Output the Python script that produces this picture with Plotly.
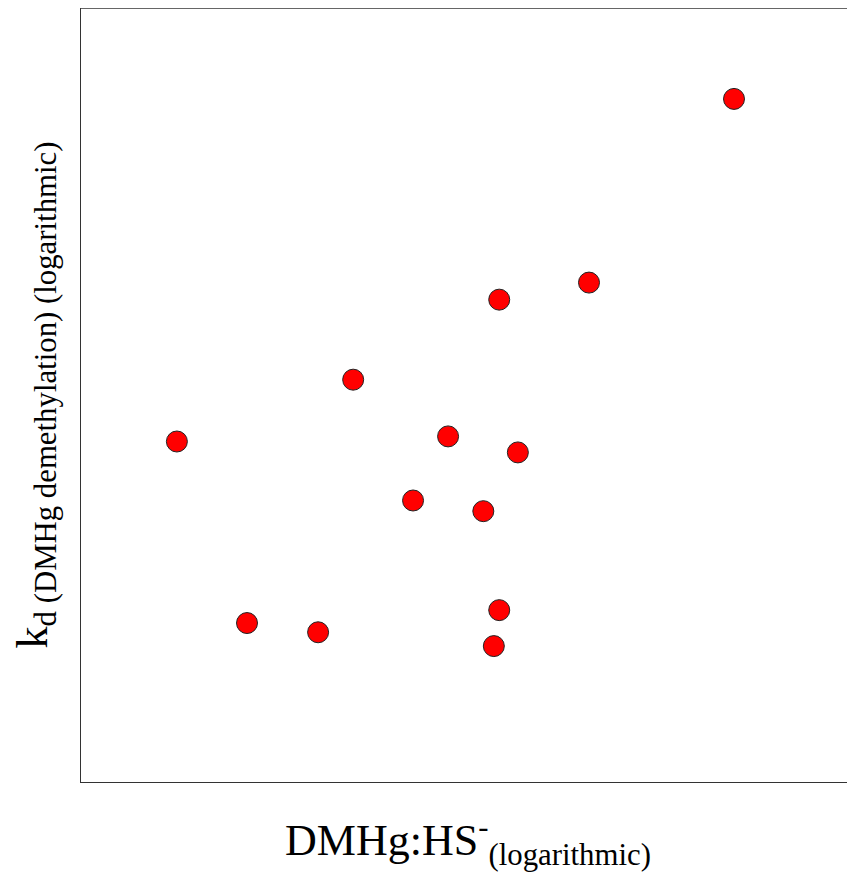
import plotly.graph_objects as go

# DMHg:HS- ratio (log axis, arbitrary units)
dmhg_hs = [0.0313, 0.0721, 0.168, 0.255, 0.520, 0.789, 1.20, 1.45, 1.45, 1.36, 1.81, 4.22, 23.7]
# k_d demethylation (log axis, arbitrary units)
kd = [0.575, 0.0663, 0.0594, 1.20, 0.285, 0.611, 0.251, 3.11, 0.0773, 0.0504, 0.505, 3.81, 33.9]

x_title = "DMHg:HS<sup>-</sup><sub>(logarithmic)</sub>"
y_title = "k<sub>d (DMHg demethylation) (logarithmic)</sub>"

fig = go.Figure()
fig.add_trace(go.Scatter(
    x=dmhg_hs, y=kd, mode="markers",
    marker=dict(size=21, color="#ff0000", line=dict(color="#222222", width=1)),
    showlegend=False, hoverinfo="skip",
))

font_family = "Liberation Serif, DejaVu Serif, serif"

fig.update_layout(
    width=847, height=866,
    margin=dict(l=73, r=0, t=0, b=92),
    paper_bgcolor="white", plot_bgcolor="white",
    font=dict(family=font_family, color="black"),
    xaxis=dict(
        type="log", range=[-2, 2], showgrid=False, zeroline=False,
        showticklabels=False, ticks="", showline=True, linecolor="#333333", linewidth=1.3,
        title=dict(text=x_title, font=dict(size=44, family=font_family), standoff=42),
    ),
    yaxis=dict(
        type="log", range=[-2, 2], showgrid=False, zeroline=False,
        showticklabels=False, ticks="", showline=True, linecolor="#333333", linewidth=1.3,
        title=dict(text=y_title, font=dict(size=44, family=font_family), standoff=23),
    ),
    shapes=[dict(type="line", xref="paper", yref="paper", x0=0, x1=1, y0=1, y1=1,
                 line=dict(color="#333333", width=1.3))],
)

fig.write_html("out.html")
